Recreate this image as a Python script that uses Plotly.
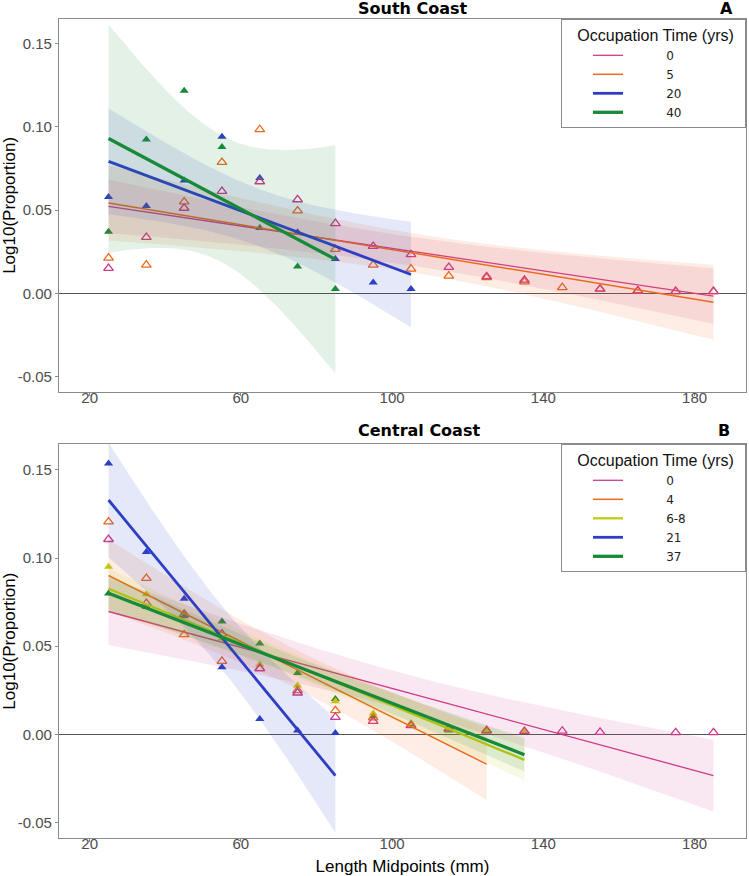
import numpy as np
import plotly.graph_objects as go

# ---------------- data ----------------
# South Coast (panel A)
south_len_0 = [25, 35, 45, 55, 65, 75, 85, 95, 105, 115, 125, 135, 155, 165, 175, 185]
south_val_0 = [0.0151, 0.0337, 0.0512, 0.0613, 0.0671, 0.0563, 0.0420, 0.0283, 0.0233,
               0.0157, 0.0101, 0.0080, 0.0026, 0.0016, 0.0012, 0.0012]
south_len_5 = [25, 35, 45, 55, 65, 75, 85, 95, 105, 115, 125, 135, 145, 155, 165, 175, 185]
south_val_5 = [0.0213, 0.0171, 0.0550, 0.0787, 0.0984, 0.0496, 0.0265, 0.0171, 0.0147,
               0.0105, 0.0095, 0.0070, 0.0036, 0.0026, 0.0016, 0.0012, 0.0012]
south_len_20 = [25, 35, 45, 55, 65, 75, 85, 95, 105]
south_val_20 = [0.0578, 0.0524, 0.0677, 0.0940, 0.0693, 0.0367, 0.0207, 0.0066, 0.0026]
south_len_40 = [25, 35, 45, 55, 65, 75, 85]
south_val_40 = [0.0370, 0.0924, 0.1217, 0.0878, 0.0392, 0.0161, 0.0026]

# Central Coast (panel B)
central_len_0 = [25, 35, 45, 55, 65, 75, 85, 95, 105, 115, 125, 135, 145, 155, 175, 185]
central_val_0 = [0.1106, 0.0743, 0.0680, 0.0570, 0.0373, 0.0235, 0.0097, 0.0074, 0.0050,
                 0.0032, 0.0021, 0.0017, 0.0019, 0.0012, 0.0010, 0.0010]
central_len_4 = [25, 35, 45, 55, 65, 75, 85, 95, 105, 115, 125]
central_val_4 = [0.1206, 0.0885, 0.0566, 0.0415, 0.0373, 0.0248, 0.0135, 0.0094, 0.0051,
                 0.0030, 0.0021]
central_len_68 = [25, 35, 45, 55, 65, 75, 85, 95, 105, 115, 125, 135]
central_val_68 = [0.0951, 0.0795, 0.0691, 0.0544, 0.0396, 0.0277, 0.0188, 0.0118, 0.0064,
                  0.0026, 0.0021, 0.0015]
central_len_21 = [25, 35, 45, 55, 65, 75, 85]
central_val_21 = [0.1536, 0.1034, 0.0769, 0.0380, 0.0087, 0.0021, 0.0007]
central_len_37 = [25, 35, 45, 55, 65, 75, 85, 95, 105, 115, 125, 135]
central_val_37 = [0.0799, 0.0722, 0.0670, 0.0640, 0.0515, 0.0348, 0.0201, 0.0102, 0.0055,
                  0.0022, 0.0020, 0.0013]

south_groups = ["0", "5", "20", "40"]
central_groups = ["0", "4", "6-8", "21", "37"]

x_tick_vals = [20, 60, 100, 140, 180]
y_tick_vals = [-0.05, 0.0, 0.05, 0.10, 0.15]
y_tick_text = ["-0.05", "0.00", "0.05", "0.10", "0.15"]

# ---------------- styles ----------------
PINK = "#CF3A8A"
ORANGE = "#EC6A1E"
YELLOW = "#C2CB0F"
BLUE = "#2C3EC6"
GREEN = "#168A38"

def rgba(hex_color, a):
    h = hex_color.lstrip("#")
    r, g, b = int(h[0:2], 16), int(h[2:4], 16), int(h[4:6], 16)
    return f"rgba({r},{g},{b},{a})"

style_open = dict(symbol="triangle-up-open", size=8.5, lw=1.3)
style_fill = dict(symbol="triangle-up", size=8, lw=0)

south_series = [
    (south_groups[0], south_len_0, south_val_0, PINK, 1.3, style_open),
    (south_groups[1], south_len_5, south_val_5, ORANGE, 1.5, style_open),
    (south_groups[2], south_len_20, south_val_20, BLUE, 2.8, style_fill),
    (south_groups[3], south_len_40, south_val_40, GREEN, 3.3, style_fill),
]
central_series = [
    (central_groups[0], central_len_0, central_val_0, PINK, 1.3, style_open),
    (central_groups[1], central_len_4, central_val_4, ORANGE, 1.5, style_open),
    (central_groups[2], central_len_68, central_val_68, YELLOW, 2.3, style_fill),
    (central_groups[3], central_len_21, central_val_21, BLUE, 2.8, style_fill),
    (central_groups[4], central_len_37, central_val_37, GREEN, 3.3, style_fill),
]

# 97.5% quantiles of Student's t distribution
T975 = {1: 12.706, 2: 4.303, 3: 3.182, 4: 2.776, 5: 2.571, 6: 2.447, 7: 2.365,
        8: 2.306, 9: 2.262, 10: 2.228, 11: 2.201, 12: 2.179, 13: 2.160, 14: 2.145,
        15: 2.131, 16: 2.120, 17: 2.110, 18: 2.101, 19: 2.093, 20: 2.086}


def lm_fit(x, y, n=80):
    x = np.asarray(x, float)
    y = np.asarray(y, float)
    b, a = np.polyfit(x, y, 1)
    xs = np.linspace(x.min(), x.max(), n)
    fit = a + b * xs
    resid = y - (a + b * x)
    dof = len(x) - 2
    s = np.sqrt(np.sum(resid ** 2) / dof)
    se = s * np.sqrt(1.0 / len(x) + (xs - x.mean()) ** 2 / np.sum((x - x.mean()) ** 2))
    t = T975[dof]
    return xs, fit, fit - t * se, fit + t * se


fig = go.Figure()

panels = [("x", "y", "legend", south_series), ("x2", "y2", "legend2", central_series)]

order_points = {PINK: 4, ORANGE: 3, YELLOW: 2, BLUE: 1, GREEN: 0}
NB = "\u00a0"

for xa, ya, leg, series in panels:
    # points (drawn first, like geom_point before geom_smooth)
    for name, xv, yv, col, lw, st in sorted(series, key=lambda s: order_points[s[3]]):
        fig.add_trace(go.Scatter(
            x=xv, y=yv, mode="markers", xaxis=xa, yaxis=ya, showlegend=False,
            marker=dict(symbol=st["symbol"], size=st["size"], color=col,
                        line=dict(color=col, width=st["lw"])),
            hoverinfo="skip"))
    # smooths: ribbon + fitted line
    for name, xv, yv, col, lw, st in series:
        xs, fit, lo, hi = lm_fit(xv, yv)
        fig.add_trace(go.Scatter(
            x=np.concatenate([xs, xs[::-1]]), y=np.concatenate([hi, lo[::-1]]),
            mode="lines", fill="toself", fillcolor=rgba(col, 0.12),
            line=dict(width=0, color="rgba(0,0,0,0)"),
            xaxis=xa, yaxis=ya, showlegend=False, hoverinfo="skip"))
        fig.add_trace(go.Scatter(
            x=xs, y=fit, mode="lines", name=NB * 10 + name, legend=leg,
            line=dict(color=col, width=lw), xaxis=xa, yaxis=ya))

H = 876.0
W = 749.0
ML, MR = 57, 3


def py(p):
    return 1 - p / H


def px(p):
    return (p - ML) / (W - ML - MR)


tick_font = dict(family="Liberation Sans, Arial, sans-serif", size=15, color="#4D4D4D")
title_font = dict(family="Liberation Sans, Arial, sans-serif", size=17, color="#000000")
axis_common = dict(showgrid=False, showline=True, linecolor="#8A8A8A", linewidth=1.3,
                   mirror=True, ticks="outside", ticklen=3, tickcolor="#8A8A8A",
                   tickfont=tick_font)
x_range = [11.9, 193.6]
y_range = [-0.059, 0.1647]

fig.update_layout(
    width=749, height=876,
    margin=dict(l=ML, r=MR, t=0, b=0),
    paper_bgcolor="white", plot_bgcolor="white",
    xaxis=dict(domain=[0, 1], anchor="y", range=x_range, tickvals=x_tick_vals,
               zeroline=False, ticklabelstandoff=-11, **axis_common),
    yaxis=dict(domain=[py(391.7), py(19)], anchor="x", range=y_range,
               tickvals=y_tick_vals, ticktext=y_tick_text,
               zeroline=True, zerolinecolor="#555555", zerolinewidth=1,
               title=dict(text="Log10(Proportion)", font=title_font, standoff=6),
               **axis_common),
    xaxis2=dict(domain=[0, 1], anchor="y2", range=x_range, tickvals=x_tick_vals,
                zeroline=False, ticklabelstandoff=-11,
                title=dict(text="Length Midpoints (mm)", font=title_font, standoff=8),
                **axis_common),
    yaxis2=dict(domain=[py(838.3), py(444)], anchor="x2", range=y_range,
                tickvals=y_tick_vals, ticktext=y_tick_text,
                zeroline=True, zerolinecolor="#555555", zerolinewidth=1,
                title=dict(text="Log10(Proportion)", font=title_font, standoff=6),
                **axis_common),
)

legend_common = dict(
    xref="paper", yref="paper", x=1, xanchor="right", yanchor="top",
    bgcolor="white", bordercolor="#8A8A8A", borderwidth=1,
    font=dict(family="DejaVu Sans, sans-serif", size=12, color="#222222"),
    itemwidth=30, tracegroupgap=0, indentation=26,
)
legend_title = dict(text=NB * 3 + "Occupation Time (yrs)" + NB * 2,
                    font=dict(family="Liberation Sans, Arial, sans-serif", size=16,
                              color="#111111"))
fig.update_layout(
    legend=dict(y=py(19), title=legend_title, **legend_common),
    legend2=dict(y=py(444), title=legend_title, **legend_common),
    showlegend=True,
)

head_font = dict(family="DejaVu Sans, Verdana, sans-serif", size=16, color="#000000")
for txt, xpix, ypix in [("South Coast", 412, 8), ("A", 726, 8),
                        ("Central Coast", 418, 430.5), ("B", 724, 430.5)]:
    fig.add_annotation(text=f"<b>{txt}</b>", xref="paper", yref="paper",
                       x=px(xpix), y=py(ypix), xanchor="center", yanchor="middle",
                       showarrow=False, font=head_font)

fig.write_html("out.html", config={"displayModeBar": False},
               post_script="document.body.style.margin='0';"
                           "document.body.style.overflow='hidden';")
